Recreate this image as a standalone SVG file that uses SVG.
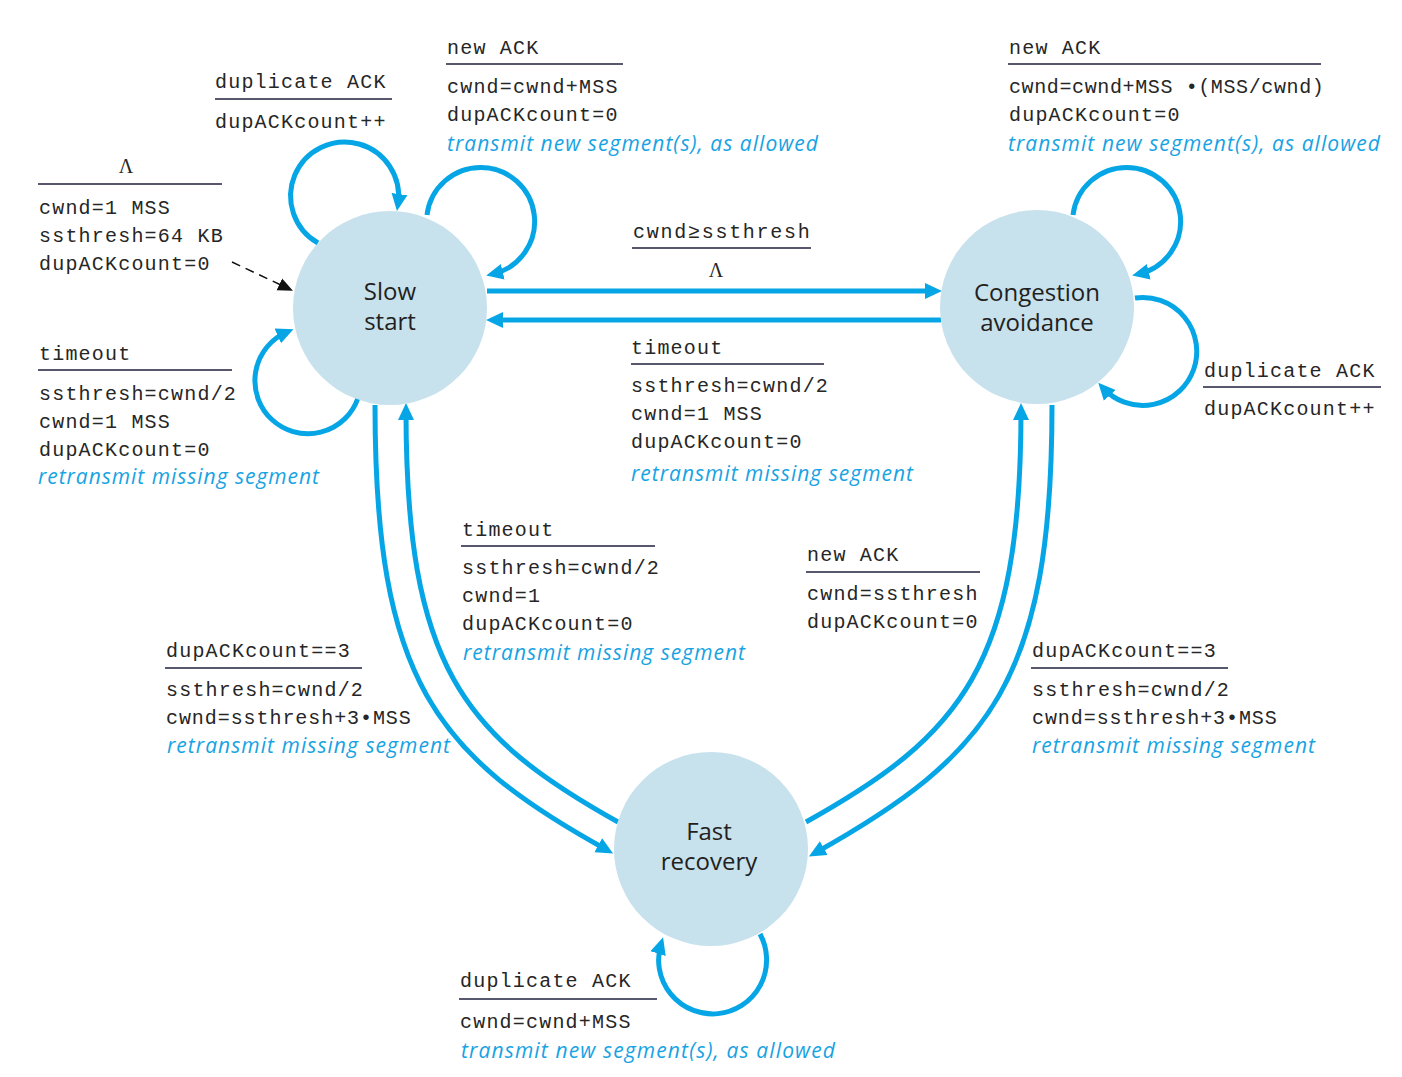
<svg xmlns="http://www.w3.org/2000/svg" width="1402" height="1077" viewBox="0 0 1402 1077">
<style>
.m{font-family:"Liberation Mono","Courier New",monospace;font-size:20px;letter-spacing:1.2px;fill:#262626}
.i{font-family:"Open Sans","Noto Sans",sans-serif;font-style:italic;font-size:21px;fill:#17a3e3}
.n{font-family:"Open Sans","Noto Sans",sans-serif;font-size:24px;fill:#231f20;text-anchor:middle}
.g{font-family:"Liberation Serif",serif;font-size:20px;fill:#262626;text-anchor:middle}
.u{stroke:#1f1f3d;stroke-width:1.6}
.st{fill:#c7e1ed}
.c{fill:none;stroke:#06a6e6;stroke-width:5;marker-end:url(#ah)}
</style>
<defs>
<marker id="ah" markerUnits="userSpaceOnUse" markerWidth="18" markerHeight="18" refX="10" refY="8" orient="auto" viewBox="0 0 18 16">
<path d="M0,0 L17,8 L0,16 z" fill="#06a6e6"/>
</marker>
<marker id="dh" markerUnits="userSpaceOnUse" markerWidth="16" markerHeight="14" refX="4" refY="6.5" orient="auto" viewBox="0 0 16 13">
<path d="M0,0 L15,6.5 L0,13 z" fill="#111"/>
</marker>
</defs>
<rect width="1402" height="1077" fill="#fff"/>

<g id="connectors">
<path class="c" d="M 318 243 A 54 54 0 1 1 398 204"/>
<path class="c" d="M 427 215 A 54 54 0 1 1 493 274"/>
<path class="c" d="M 358 398 A 53 53 0 1 1 287 332"/>
<path class="c" d="M 1073 215 A 54 54 0 1 1 1139 274"/>
<path class="c" d="M 1135 298 A 54 54 0 1 1 1103 388"/>
<path class="c" d="M 760 934 A 54 54 0 1 1 661 944"/>
<path class="c" d="M 487 291 L 935 291"/>
<path class="c" d="M 941 320 L 493 320"/>
<path class="c" d="M 375 405 C 375 680, 435 755, 607 850"/>
<path class="c" d="M 618 822 C 462 735, 406 665, 406 410"/>
<path class="c" d="M 1052 405 C 1052 680, 990 755, 815 853"/>
<path class="c" d="M 806 822 C 962 735, 1021 665, 1021 410"/>
<path d="M 232 262 L 283 286" fill="none" stroke="#111" stroke-width="1.5" stroke-dasharray="9,6" marker-end="url(#dh)"/>
</g>

<g id="slow-start">
<circle class="st" cx="390" cy="308" r="97"/>
<text class="n" x="390" y="300">Slow</text>
<text class="n" x="390" y="330">start</text>
</g>
<g id="congestion-avoidance">
<circle class="st" cx="1037" cy="307" r="97"/>
<text class="n" x="1037" y="301">Congestion</text>
<text class="n" x="1037" y="331">avoidance</text>
</g>
<g id="fast-recovery">
<circle class="st" cx="711" cy="849" r="97"/>
<text class="n" x="709" y="840">Fast</text>
<text class="n" x="709" y="870">recovery</text>
</g>

<g id="label-init">
<text class="g" x="126" y="173">Λ</text>
<line class="u" x1="38" y1="184" x2="222" y2="184"/>
<text class="m" x="39" y="214">cwnd=1 MSS</text>
<text class="m" x="39" y="242">ssthresh=64 KB</text>
<text class="m" x="39" y="270">dupACKcount=0</text>
</g>
<g id="label-ss-dup">
<text class="m" x="215" y="88">duplicate ACK</text>
<line class="u" x1="215" y1="99" x2="392" y2="99"/>
<text class="m" x="215" y="128">dupACKcount++</text>
</g>
<g id="label-ss-new">
<text class="m" x="447" y="54">new ACK</text>
<line class="u" x1="446" y1="64" x2="623" y2="64"/>
<text class="m" x="447" y="93">cwnd=cwnd+MSS</text>
<text class="m" x="447" y="121">dupACKcount=0</text>
<text class="i" x="447" y="151" textLength="371" lengthAdjust="spacing">transmit new segment(s), as allowed</text>
</g>
<g id="label-ca-new">
<text class="m" x="1009" y="54">new ACK</text>
<line class="u" x1="1008" y1="64" x2="1321" y2="64"/>
<text class="m" x="1009" y="93" textLength="316" lengthAdjust="spacing">cwnd=cwnd+MSS •(MSS/cwnd)</text>
<text class="m" x="1009" y="121">dupACKcount=0</text>
<text class="i" x="1008" y="151" textLength="372" lengthAdjust="spacing">transmit new segment(s), as allowed</text>
</g>
<g id="label-ss-ca">
<text class="m" x="633" y="238" textLength="178" lengthAdjust="spacing">cwnd≥ssthresh</text>
<line class="u" x1="632" y1="248" x2="811" y2="248"/>
<text class="g" x="716" y="277">Λ</text>
</g>
<g id="label-ca-ss">
<text class="m" x="631" y="354">timeout</text>
<line class="u" x1="631" y1="364" x2="824" y2="364"/>
<text class="m" x="631" y="392">ssthresh=cwnd/2</text>
<text class="m" x="631" y="420">cwnd=1 MSS</text>
<text class="m" x="631" y="448">dupACKcount=0</text>
<text class="i" x="631" y="481" textLength="282" lengthAdjust="spacing">retransmit missing segment</text>
</g>
<g id="label-ss-timeout">
<text class="m" x="39" y="360">timeout</text>
<line class="u" x1="38" y1="370" x2="232" y2="370"/>
<text class="m" x="39" y="400">ssthresh=cwnd/2</text>
<text class="m" x="39" y="428">cwnd=1 MSS</text>
<text class="m" x="39" y="456">dupACKcount=0</text>
<text class="i" x="38" y="484" textLength="281" lengthAdjust="spacing">retransmit missing segment</text>
</g>
<g id="label-ca-dup">
<text class="m" x="1204" y="377">duplicate ACK</text>
<line class="u" x1="1203" y1="387" x2="1381" y2="387"/>
<text class="m" x="1204" y="415">dupACKcount++</text>
</g>
<g id="label-fr-ss">
<text class="m" x="462" y="536">timeout</text>
<line class="u" x1="461" y1="546" x2="655" y2="546"/>
<text class="m" x="462" y="574">ssthresh=cwnd/2</text>
<text class="m" x="462" y="602">cwnd=1</text>
<text class="m" x="462" y="630">dupACKcount=0</text>
<text class="i" x="463" y="660" textLength="282" lengthAdjust="spacing">retransmit missing segment</text>
</g>
<g id="label-fr-ca">
<text class="m" x="807" y="561">new ACK</text>
<line class="u" x1="806" y1="572" x2="980" y2="572"/>
<text class="m" x="807" y="600">cwnd=ssthresh</text>
<text class="m" x="807" y="628">dupACKcount=0</text>
</g>
<g id="label-ss-fr">
<text class="m" x="166" y="657">dupACKcount==3</text>
<line class="u" x1="165" y1="668" x2="362" y2="668"/>
<text class="m" x="166" y="696">ssthresh=cwnd/2</text>
<text class="m" x="166" y="724" textLength="246" lengthAdjust="spacing">cwnd=ssthresh+3•MSS</text>
<text class="i" x="167" y="753" textLength="283" lengthAdjust="spacing">retransmit missing segment</text>
</g>
<g id="label-ca-fr">
<text class="m" x="1032" y="657">dupACKcount==3</text>
<line class="u" x1="1031" y1="668" x2="1228" y2="668"/>
<text class="m" x="1032" y="696">ssthresh=cwnd/2</text>
<text class="m" x="1032" y="724" textLength="246" lengthAdjust="spacing">cwnd=ssthresh+3•MSS</text>
<text class="i" x="1032" y="753" textLength="283" lengthAdjust="spacing">retransmit missing segment</text>
</g>
<g id="label-fr-dup">
<text class="m" x="460" y="987">duplicate ACK</text>
<line class="u" x1="459" y1="999" x2="657" y2="999"/>
<text class="m" x="460" y="1028">cwnd=cwnd+MSS</text>
<text class="i" x="461" y="1058" textLength="374" lengthAdjust="spacing">transmit new segment(s), as allowed</text>
</g>
</svg>
